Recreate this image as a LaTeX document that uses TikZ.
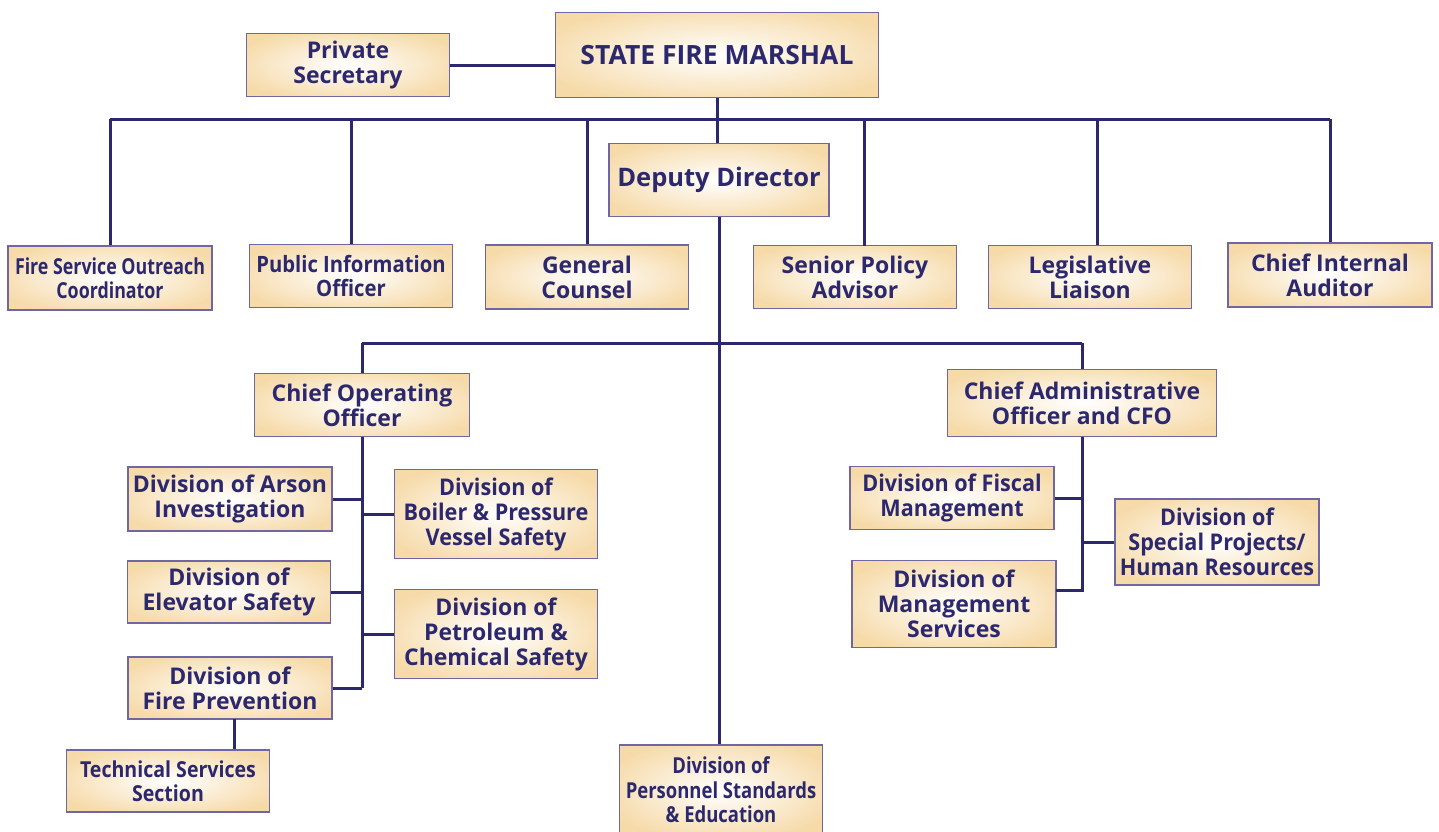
\documentclass[tikz,border=0pt]{standalone}
\usepackage{fontspec}
\newfontfamily\labelfont{Open Sans}
\newfontfamily\midfont{Open Sans}[FakeStretch=0.94]
\newfontfamily\piofont{Open Sans}[FakeStretch=0.9]
\newfontfamily\condfont{Open Sans}[FakeStretch=0.84]
\newfontfamily\fsofont{Open Sans}[FakeStretch=0.81]
\newfontfamily\tssfont{Open Sans}[FakeStretch=0.89]
\definecolor{navy}{RGB}{44,40,110}
\definecolor{boxtan}{RGB}{246,218,168}
\definecolor{boxline}{RGB}{112,102,162}
\pgfdeclareradialshading{boxshade}{\pgfpoint{0bp}{0bp}}{color(0bp)=(white); color(6bp)=(white!80!boxtan); color(30bp)=(boxtan); color(100bp)=(boxtan)}
\tikzset{
  orgbox/.style={draw=boxline, line width=1.2pt, shading=boxshade, text=navy,
    align=center, inner sep=0pt, font=\labelfont\bfseries\fontsize{23}{25}\selectfont},
  bigsfm/.style={orgbox, font=\labelfont\bfseries\fontsize{26.5}{28}\selectfont},
  bigdep/.style={orgbox, font=\labelfont\bfseries\fontsize{25.5}{28}\selectfont},
  midbox/.style={orgbox, font=\midfont\bfseries\fontsize{23}{25}\selectfont},
  piobox/.style={orgbox, font=\piofont\bfseries\fontsize{22.5}{24.5}\selectfont},
  condbox/.style={orgbox, font=\condfont\bfseries\fontsize{22}{24.5}\selectfont},
  fsobox/.style={orgbox, font=\fsofont\bfseries\fontsize{22}{24.5}\selectfont},
  tssbox/.style={orgbox, font=\tssfont\bfseries\fontsize{22}{24.5}\selectfont},
  link/.style={draw=navy, line width=3pt}
}
\begin{document}
\begin{tikzpicture}[x=1pt,y=-1pt]
\useasboundingbox[fill=white] (0,0) rectangle (1439,831);
% top level
\node[bigsfm, minimum width=323pt, minimum height=85pt] (sfm) at (717,55) {STATE FIRE MARSHAL};
\node[orgbox, minimum width=203pt, minimum height=63pt] (ps) at (348,65) {Private\\Secretary};
\node[bigdep, minimum width=220pt, minimum height=73pt] (dep) at (719,180) {Deputy Director};
% second row
\node[fsobox, minimum width=204pt, minimum height=64pt] (fso) at (110,278) {Fire Service Outreach\\Coordinator};
\node[piobox, minimum width=203pt, minimum height=63pt] (pio) at (351,276) {Public Information\\Officer};
\node[orgbox, minimum width=203pt, minimum height=64pt] (gc) at (587,277) {General\\Counsel};
\node[orgbox, minimum width=203pt, minimum height=63pt] (spa) at (855,277) {Senior Policy\\Advisor};
\node[orgbox, minimum width=203pt, minimum height=63pt] (ll) at (1090,277) {Legislative\\Liaison};
\node[orgbox, minimum width=204pt, minimum height=64pt] (cia) at (1330,275) {Chief Internal\\Auditor};
% chiefs
\node[orgbox, minimum width=215pt, minimum height=63pt] (coo) at (362,405) {Chief Operating\\Officer};
\node[orgbox, minimum width=269pt, minimum height=67pt] (cao) at (1082,403) {Chief Administrative\\Officer and CFO};
% operations divisions
\node[orgbox, minimum width=204pt, minimum height=64pt] (ars) at (230,499) {Division of Arson\\Investigation};
\node[midbox, minimum width=203pt, minimum height=89pt] (boi) at (496,514) {Division of\\Boiler \& Pressure\\Vessel Safety};
\node[orgbox, minimum width=203pt, minimum height=62pt] (ele) at (229,592) {Division of\\Elevator Safety};
\node[orgbox, minimum width=203pt, minimum height=89pt] (pet) at (496,634) {Division of\\Petroleum \&\\Chemical Safety};
\node[orgbox, minimum width=204pt, minimum height=62pt] (fp) at (230,688) {Division of\\Fire Prevention};
\node[tssbox, minimum width=203pt, minimum height=62pt] (tss) at (168,781) {Technical Services\\Section};
% personnel
\node[condbox, minimum width=203pt, minimum height=90pt] (pse) at (721,790) {Division of\\Personnel Standards\\\& Education};
% admin divisions
\node[midbox, minimum width=204pt, minimum height=63pt] (fis) at (952,498) {Division of Fiscal\\Management};
\node[orgbox, minimum width=204pt, minimum height=87pt] (ms) at (954,604) {Division of\\Management\\Services};
\node[midbox, minimum width=204pt, minimum height=86pt] (spr) at (1217,542) {Division of\\Special Projects/\\Human Resources};
% helper coordinates
\coordinate (bus1) at (718,119);
\coordinate (bus2) at (718,343);
\coordinate (spatop) at (864,246);
\coordinate (lltop) at (1097,245);
\coordinate (fpbot) at (234,719);
\coordinate (msc) at (1056,590);
% connectors
\draw[link] (ps.east) -- (ps.east -| sfm.west);
\draw[link] (sfm.south) -- (sfm.south |- dep.north);
\draw[link] (fso.north |- bus1) -- (cia.north |- bus1);
\draw[link] (fso.north) -- (fso.north |- bus1);
\draw[link] (pio.north) -- (pio.north |- bus1);
\draw[link] (gc.north) -- (gc.north |- bus1);
\draw[link] (spatop) -- (spatop |- bus1);
\draw[link] (lltop) -- (lltop |- bus1);
\draw[link] (cia.north) -- (cia.north |- bus1);
\draw[link] (dep.south) -- (dep.south |- pse.north);
\draw[link] (coo.north |- bus2) -- (cao.north |- bus2);
\draw[link] (coo.north) -- (coo.north |- bus2);
\draw[link] (cao.north) -- (cao.north |- bus2);
\draw[link] (coo.south) -- (coo.south |- fp.east);
\draw[link] (ars.east) -- (ars.east -| coo.south);
\draw[link] (boi.west) -- (boi.west -| coo.south);
\draw[link] (ele.east) -- (ele.east -| coo.south);
\draw[link] (pet.west) -- (pet.west -| coo.south);
\draw[link] (fp.east) -- (fp.east -| coo.south);
\draw[link] (fpbot) -- (fpbot |- tss.north);
\draw[link] (cao.south) -- (cao.south |- msc) -- (msc);
\draw[link] (fis.east) -- (fis.east -| cao.south);
\draw[link] (spr.west) -- (spr.west -| cao.south);
\end{tikzpicture}
\end{document}
